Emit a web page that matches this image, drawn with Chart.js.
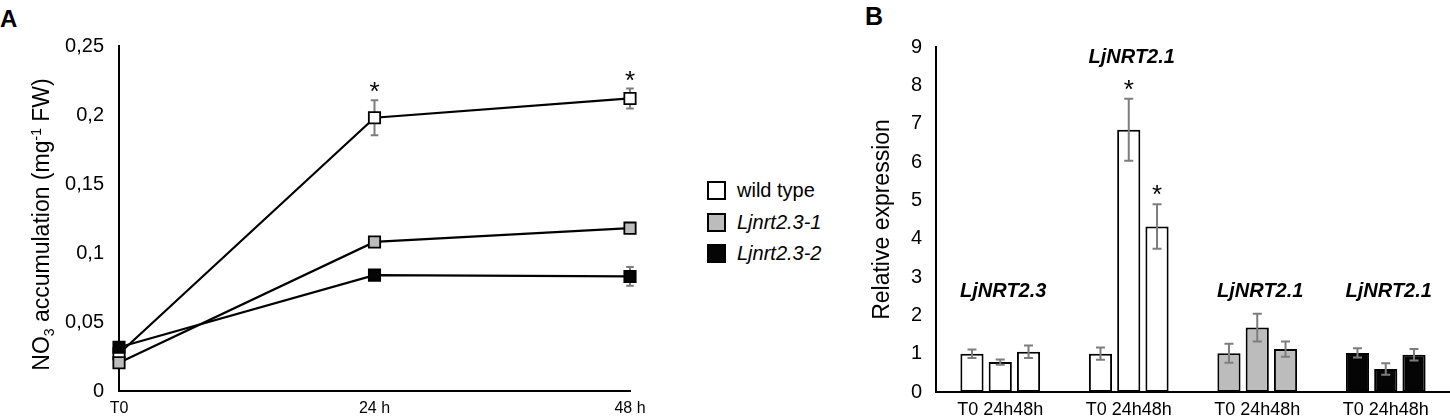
<!DOCTYPE html>
<html>
<head>
<meta charset="utf-8">
<script src="https://cdn.jsdelivr.net/npm/chart.js@4.4.0/dist/chart.umd.min.js"></script>
<style>
  body { margin: 0; background: #fff; width: 1450px; height: 418px; overflow: hidden; position: relative;
         font-family: 'Liberation Sans', Arial, sans-serif; }
  #boxA { position: absolute; left: 0; top: 0; width: 690px; height: 418px; }
  #boxB { position: absolute; left: 840px; top: 0; width: 610px; height: 418px; }
  .panel { position: absolute; font-weight: bold; font-size: 24px; line-height: 24px; }
  #legend { position: absolute; left: 707px; top: 175px; }
  #legend .row { display: flex; align-items: center; height: 31.5px; font-size: 20px; }
  #legend .box { width: 19px; height: 19px; box-sizing: border-box; border: 2px solid #000; margin-right: 11px; }
</style>
</head>
<body>
<div class="panel" style="left:0px;top:7px">A</div>
<div class="panel" style="left:865px;top:4px;font-size:25px">B</div>
<div id="boxA"><canvas id="chartA"></canvas></div>
<div id="legend"></div>
<div id="boxB"><canvas id="chartB"></canvas></div>
<script>
// panel A: nitrate accumulation
var timesA = [0, 24, 48];
var timeLabelsA = ['T0', '24 h', '48 h'];
var ticksA = [0, 0.05, 0.1, 0.15, 0.2, 0.25];
var wildType = [0.027, 0.198, 0.212];
var wildTypeErr = [0.002, 0.0126, 0.0072];
var mutant1 = [0.0205, 0.108, 0.118];
var mutant1Err = [0.002, 0.003, 0.003];
var mutant2 = [0.0317, 0.084, 0.083];
var mutant2Err = [0.002, 0.003, 0.0068];
var starsA = [false, true, true];

// panel B: relative expression
var genes = ['LjNRT2.3', 'LjNRT2.1', 'LjNRT2.1', 'LjNRT2.1'];
var timepointsB = ['T0', '24h', '48h'];
var exprT0 = [1.0, 1.0, 1.01, 1.02];
var expr24 = [0.78, 6.84, 1.68, 0.6];
var expr48 = [1.05, 4.32, 1.12, 0.97];
var errT0 = [0.11, 0.16, 0.25, 0.12];
var err24 = [0.07, 0.81, 0.36, 0.15];
var err48 = [0.16, 0.58, 0.2, 0.15];
var stars24 = [false, true, false, false];
var stars48 = [false, true, false, false];
var ticksB = [0, 1, 2, 3, 4, 5, 6, 7, 8, 9];

var SANS = "'Liberation Sans', Arial, sans-serif";
Chart.defaults.font.family = SANS;
Chart.defaults.color = '#000';
Chart.defaults.animation = false;

function valueOf(d) { return (d !== null && typeof d === 'object') ? d.y : d; }

function drawErrors(chart, opts) {
    var ctx = chart.ctx, y = chart.scales.y;
    ctx.save();
    ctx.strokeStyle = opts.color;
    ctx.lineWidth = opts.width;
    chart.data.datasets.forEach(function (ds, di) {
        if (!ds.errors) return;
        chart.getDatasetMeta(di).data.forEach(function (el, i) {
            var v = valueOf(ds.data[i]), e = ds.errors[i];
            var top = y.getPixelForValue(v + e), bot = y.getPixelForValue(v - e);
            ctx.beginPath();
            ctx.moveTo(el.x, top); ctx.lineTo(el.x, bot);
            ctx.moveTo(el.x - opts.cap, top); ctx.lineTo(el.x + opts.cap, top);
            ctx.moveTo(el.x - opts.cap, bot); ctx.lineTo(el.x + opts.cap, bot);
            ctx.stroke();
        });
    });
    ctx.restore();
}

function drawStars(chart, opts) {
    var ctx = chart.ctx, y = chart.scales.y;
    ctx.save();
    ctx.font = opts.starFont;
    ctx.textAlign = 'center';
    ctx.textBaseline = 'alphabetic';
    ctx.fillStyle = '#000';
    chart.data.datasets.forEach(function (ds, di) {
        if (!ds.stars) return;
        chart.getDatasetMeta(di).data.forEach(function (el, i) {
            if (!ds.stars[i]) return;
            var top = y.getPixelForValue(valueOf(ds.data[i]) + ds.errors[i]);
            ctx.fillText('*', el.x, top - opts.starGap);
        });
    });
    ctx.restore();
}

var errorBars = {
    id: 'errorBars',
    beforeDatasetsDraw: function (chart, args, opts) { if (opts.behind) drawErrors(chart, opts); },
    afterDatasetsDraw: function (chart, args, opts) {
        if (!opts.behind) drawErrors(chart, opts);
        drawStars(chart, opts);
    }
};

// y title of panel A has a subscript and a superscript
var richTitle = {
    id: 'richTitle',
    afterDraw: function (chart, args, opts) {
        if (!opts.parts) return;
        var ctx = chart.ctx, size = opts.size;
        var area = chart.chartArea;
        ctx.save();
        ctx.fillStyle = '#000';
        ctx.textBaseline = 'alphabetic';
        var total = 0;
        opts.parts.forEach(function (p) {
            ctx.font = (p[1] ? Math.round(size * 0.62) : size) + 'px ' + SANS;
            p.w = ctx.measureText(p[0]).width;
            total += p.w;
        });
        ctx.translate(opts.x, (area.top + area.bottom) / 2 + opts.shift);
        ctx.rotate(-Math.PI / 2);
        var x = -total / 2;
        opts.parts.forEach(function (p) {
            ctx.font = (p[1] ? Math.round(size * 0.62) : size) + 'px ' + SANS;
            var dy = p[1] === 'sub' ? size * 0.22 : (p[1] === 'sup' ? -size * 0.38 : 0);
            ctx.fillText(p[0], x, size * 0.36 + dy);
            x += p.w;
        });
        ctx.restore();
    }
};

// gene names over each group of bars
var groupLabels = {
    id: 'groupLabels',
    afterDatasetsDraw: function (chart, args, opts) {
        if (!opts.labels) return;
        var ctx = chart.ctx, xs = chart.scales.x, ys = chart.scales.y;
        ctx.save();
        ctx.font = opts.font;
        ctx.textAlign = 'center';
        ctx.textBaseline = 'middle';
        ctx.fillStyle = '#000';
        opts.labels.forEach(function (t, i) {
            ctx.fillText(t, xs.getPixelForValue(i) + 3, ys.getPixelForValue(opts.levels[i]));
        });
        ctx.restore();
    }
};

function points(xs, ys) { return xs.map(function (x, i) { return { x: x, y: ys[i] }; }); }

var seriesA = [
    { label: 'wild type', data: wildType, err: wildTypeErr, fill: '#ffffff', italic: false, order: 3, stars: starsA },
    { label: 'Ljnrt2.3-1', data: mutant1, err: mutant1Err, fill: '#bcbcbc', italic: true, order: 2 },
    { label: 'Ljnrt2.3-2', data: mutant2, err: mutant2Err, fill: '#050505', italic: true, order: 1 }
];

new Chart(document.getElementById('chartA'), {
    type: 'line',
    data: {
        datasets: seriesA.map(function (s) {
            return {
                label: s.label,
                data: points(timesA, s.data),
                errors: s.err,
                stars: s.stars,
                order: s.order,
                clip: false,
                borderColor: '#000',
                borderWidth: 2.2,
                pointStyle: 'rect',
                pointRadius: 8,
                pointBackgroundColor: s.fill,
                pointBorderColor: '#000',
                pointBorderWidth: 1.8,
                tension: 0
            };
        })
    },
    options: {
        maintainAspectRatio: false,
        layout: { padding: { left: 0, right: 60, top: 46, bottom: 0 } },
        plugins: {
            legend: { display: false },
            tooltip: { enabled: false },
            errorBars: { behind: true, color: '#7d7d7d', width: 2, cap: 3.8, starFont: '26px ' + SANS, starGap: 0 },
            richTitle: {
                x: 41, shift: 6, size: 23,
                parts: [['NO'], ['3', 'sub'], [' accumulation (mg'], ['-1', 'sup'], [' FW)']]
            }
        },
        scales: {
            x: {
                type: 'linear', min: 0, max: 48,
                grid: { display: false, drawTicks: false },
                border: { display: true, color: '#000', width: 2 },
                afterBuildTicks: function (scale) { scale.ticks = timesA.map(function (v) { return { value: v }; }); },
                afterFit: function (scale) { scale.height = 25; },
                ticks: {
                    padding: 8,
                    font: { size: 16 },
                    maxRotation: 0,
                    callback: function (v) { return timeLabelsA[timesA.indexOf(v)]; }
                }
            },
            y: {
                min: 0, max: 0.25,
                grid: { display: false, drawTicks: false },
                border: { display: true, color: '#000', width: 2 },
                afterBuildTicks: function (scale) { scale.ticks = ticksA.map(function (v) { return { value: v }; }); },
                afterFit: function (scale) { scale.width = 119; },
                ticks: {
                    padding: 15,
                    font: { size: 20 },
                    callback: function (v) { return String(v).replace('.', ','); }
                }
            }
        }
    },
    plugins: [errorBars, richTitle]
});

// legend of panel A
var legend = document.getElementById('legend');
seriesA.forEach(function (s) {
    var row = document.createElement('div');
    row.className = 'row';
    var box = document.createElement('span');
    box.className = 'box';
    box.style.background = s.fill;
    var txt = document.createElement('span');
    txt.textContent = s.label;
    if (s.italic) txt.style.fontStyle = 'italic';
    row.appendChild(box);
    row.appendChild(txt);
    legend.appendChild(row);
});

var groupFill = ['#ffffff', '#ffffff', '#bcbcbc', '#050505'];
var valuesB = [exprT0, expr24, expr48];
var errorsB = [errT0, err24, err48];
var starsB = [null, stars24, stars48];

new Chart(document.getElementById('chartB'), {
    type: 'bar',
    data: {
        labels: genes.map(function (g, i) { return i; }),
        datasets: timepointsB.map(function (t, k) {
            return {
                label: t,
                data: valuesB[k],
                errors: errorsB[k],
                stars: starsB[k],
                backgroundColor: groupFill,
                borderColor: '#000',
                borderWidth: 2,
                borderSkipped: false,
                categoryPercentage: 0.66,
                barPercentage: 0.82
            };
        })
    },
    options: {
        maintainAspectRatio: false,
        layout: { padding: { left: 0, right: 0, top: 47, bottom: 0 } },
        plugins: {
            legend: { display: false },
            tooltip: { enabled: false },
            errorBars: { behind: false, color: '#7d7d7d', width: 2, cap: 4.5, starFont: '26px ' + SANS, starGap: 1 },
            groupLabels: { labels: genes, levels: [2.62, 8.73, 2.62, 2.62], font: 'italic bold 20px ' + SANS }
        },
        scales: {
            x: {
                grid: { display: false, drawTicks: false },
                border: { display: true, color: '#000', width: 2 },
                afterFit: function (scale) { scale.height = 24; },
                ticks: {
                    padding: 7,
                    font: { size: 18 },
                    maxRotation: 0,
                    callback: function () { return timepointsB[0] + ' ' + timepointsB[1] + timepointsB[2]; }
                }
            },
            y: {
                min: 0, max: 9,
                grid: { display: false, drawTicks: false },
                border: { display: true, color: '#000', width: 2 },
                afterBuildTicks: function (scale) { scale.ticks = ticksB.map(function (v) { return { value: v }; }); },
                afterFit: function (scale) { scale.width = 96; },
                title: { display: true, text: 'Relative expression', font: { size: 23 }, padding: { top: 29, bottom: 0 } },
                ticks: { padding: 14, font: { size: 20 } }
            }
        }
    },
    plugins: [errorBars, groupLabels]
});
</script>
</body>
</html>
